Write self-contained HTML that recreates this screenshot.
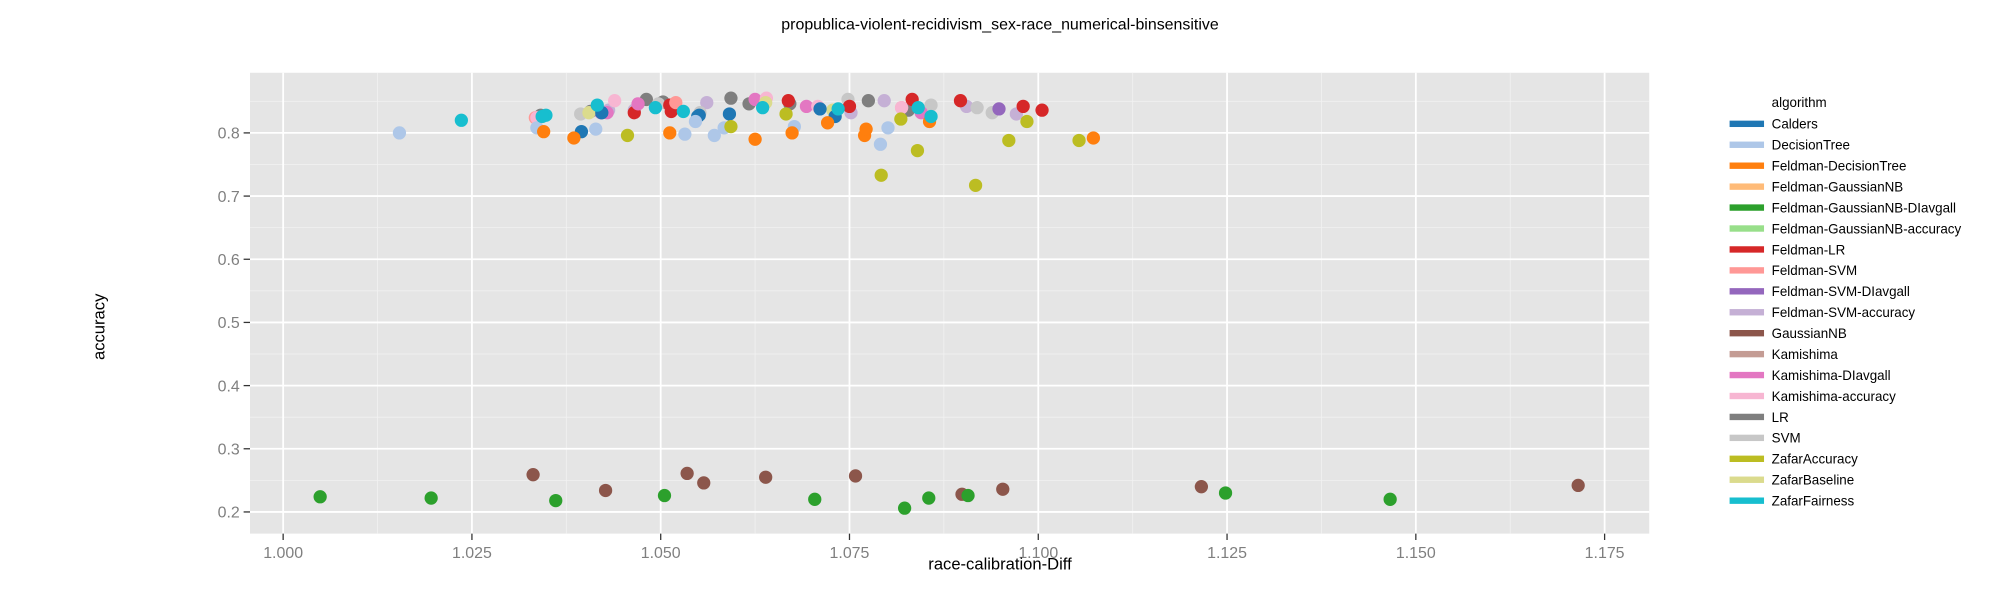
<!DOCTYPE html>
<html><head><meta charset="utf-8"><style>
html,body{margin:0;padding:0;background:#fff;}
svg{display:block;font-family:"Liberation Sans","DejaVu Sans",sans-serif;}
</style></head><body>
<svg id="chart" width="2000" height="600" viewBox="0 0 1568 470" preserveAspectRatio="none" xmlns="http://www.w3.org/2000/svg">
<text x="784" y="23" text-anchor="middle" font-size="12.5" fill="#000">propublica-violent-recidivism_sex-race_numerical-binsensitive</text>
<rect x="196" y="57" width="1097" height="361" fill="#e5e5e5"/>
<g id="grid"></g>
<g id="axes"></g>
<g id="points"></g>
<text x="784" y="446" text-anchor="middle" font-size="13" fill="#000">race-calibration-Diff</text>
<text x="82" y="256" text-anchor="middle" font-size="13" fill="#000" transform="rotate(-90 82 256)">accuracy</text>
<g id="legend">
<text x="1389" y="84" font-size="10.5" fill="#000">algorithm</text>
</g>
</svg>
<script>
const algorithms = ["Calders","DecisionTree","Feldman-DecisionTree","Feldman-GaussianNB","Feldman-GaussianNB-DIavgall","Feldman-GaussianNB-accuracy","Feldman-LR","Feldman-SVM","Feldman-SVM-DIavgall","Feldman-SVM-accuracy","GaussianNB","Kamishima","Kamishima-DIavgall","Kamishima-accuracy","LR","SVM","ZafarAccuracy","ZafarBaseline","ZafarFairness"];
const colors = ["#1f77b4","#aec7e8","#ff7f0e","#ffbb78","#2ca02c","#98df8a","#d62728","#ff9896","#9467bd","#c5b0d5","#8c564b","#c49c94","#e377c2","#f7b6d2","#7f7f7f","#c7c7c7","#bcbd22","#dbdb8d","#17becf"];
const xTicks = [1.000,1.025,1.050,1.075,1.100,1.125,1.150,1.175];
const xTickLabels = ["1.000","1.025","1.050","1.075","1.100","1.125","1.150","1.175"];
const yTicks = [0.2,0.3,0.4,0.5,0.6,0.7,0.8];
const yTickLabels = ["0.2","0.3","0.4","0.5","0.6","0.7","0.8"];
const svmAccX = [1.0561,1.0796,1.0905,1.0971,1.0752,1.0465,1.0431];
const svmAccY = [0.848,0.851,0.842,0.830,0.832,0.836,0.836];
const lrX = [1.0407,1.0481,1.0593,1.0617,1.0671,1.0775,1.0828,1.0341,1.0503];
const lrY = [0.834,0.853,0.855,0.846,0.846,0.851,0.836,0.828,0.849];
const svmX = [1.0394,1.0497,1.0748,1.0858,1.0919,1.0939,1.0552];
const svmY = [0.830,0.846,0.853,0.844,0.840,0.832,0.832];
const feldLRX = [1.0465,1.0514,1.0669,1.0750,1.0833,1.0897,1.0980,1.1005,1.0512];
const feldLRY = [0.832,0.834,0.851,0.842,0.853,0.851,0.842,0.836,0.844];
const feldSVMX = [1.0520,1.0819,1.0334];
const feldSVMY = [0.848,0.840,0.824];
const feldSVMDIX = [1.0948,1.0421];
const feldSVMDIY = [0.838,0.832];
const kamDIX = [1.0470,1.0625,1.0693,1.0845,1.0429];
const kamDIY = [0.846,0.853,0.842,0.832,0.832];
const kamAccX = [1.0439,1.0640,1.0708,1.0336,1.0819];
const kamAccY = [0.851,0.855,0.842,0.824,0.840];
const zafBaseX = [1.0728,1.0639,1.0405];
const zafBaseY = [0.836,0.848,0.832];
const caldersX = [1.0395,1.0422,1.0551,1.0591,1.0711,1.0731,1.0549];
const caldersY = [0.802,0.832,0.828,0.830,0.838,0.826,0.826];
const dtX = [1.0154,1.0336,1.0414,1.0532,1.0571,1.0584,1.0677,1.0791,1.0801,1.0546];
const dtY = [0.800,0.808,0.806,0.798,0.796,0.808,0.810,0.782,0.808,0.818];
const feldDTX = [1.0345,1.0385,1.0512,1.0625,1.0674,1.0721,1.0770,1.0856,1.1073,1.0772];
const feldDTY = [0.802,0.792,0.800,0.790,0.800,0.816,0.796,0.818,0.792,0.806];
const zafFairX = [1.0236,1.0348,1.0416,1.0493,1.0530,1.0635,1.0735,1.0841,1.0858,1.0343];
const zafFairY = [0.820,0.828,0.844,0.840,0.834,0.840,0.838,0.840,0.826,0.826];
const zafAccX = [1.0456,1.0593,1.0666,1.0792,1.0818,1.0840,1.0917,1.0961,1.0985,1.1054];
const zafAccY = [0.796,0.810,0.830,0.733,0.822,0.772,0.717,0.788,0.818,0.788];
const gnbX = [1.0331,1.0427,1.0535,1.0557,1.0639,1.0758,1.0899,1.0953,1.1216,1.1715];
const gnbY = [0.259,0.234,0.261,0.246,0.255,0.257,0.228,0.236,0.240,0.242];
const fgnbDIX = [1.0049,1.0196,1.0361,1.0505,1.0704,1.0823,1.0855,1.0907,1.1248,1.1466];
const fgnbDIY = [0.224,0.222,0.218,0.226,0.220,0.206,0.222,0.226,0.230,0.220];

const series = [
 [9,svmAccX,svmAccY],[14,lrX,lrY],[15,svmX,svmY],[6,feldLRX,feldLRY],[7,feldSVMX,feldSVMY],
 [8,feldSVMDIX,feldSVMDIY],[12,kamDIX,kamDIY],[13,kamAccX,kamAccY],[17,zafBaseX,zafBaseY],
 [0,caldersX,caldersY],[1,dtX,dtY],[2,feldDTX,feldDTY],[18,zafFairX,zafFairY],[16,zafAccX,zafAccY],
 [10,gnbX,gnbY],[4,fgnbDIX,fgnbDIY]
];
const X0=196,X1=1293,Y0=57,Y1=418;
const xMin=0.99561,xMax=1.18091,yMin=0.1657,yMax=0.8952;
const sx=v=>X0+(v-xMin)/(xMax-xMin)*(X1-X0);
const sy=v=>Y1-(v-yMin)/(yMax-yMin)*(Y1-Y0);
const NS="http://www.w3.org/2000/svg";
function mk(tag,attrs,parent){const e=document.createElementNS(NS,tag);for(const k in attrs)e.setAttribute(k,attrs[k]);parent.appendChild(e);return e;}
const grid=document.getElementById('grid'),axes=document.getElementById('axes'),pts=document.getElementById('points'),leg=document.getElementById('legend');
for(let i=0;i<xTicks.length+1;i++){const v=xTicks[0]-0.0125+i*0.025;if(v<xMin||v>xMax)continue;const l=mk('line',{x1:sx(v),x2:sx(v),y1:Y0,y2:Y1,stroke:'#f2f2f2','stroke-width':0.6},grid);

}
for(let i=0;i<yTicks.length+1;i++){const v=yTicks[0]-0.05+i*0.1;if(v<yMin||v>yMax)continue;const l=mk('line',{x1:X0,x2:X1,y1:sy(v),y2:sy(v),stroke:'#f2f2f2','stroke-width':0.6},grid);

}
xTicks.forEach((v,i)=>{const l=mk('line',{x1:sx(v),x2:sx(v),y1:Y0,y2:Y1,stroke:'#fff','stroke-width':1.4},grid);


const t=mk('line',{x1:sx(v),x2:sx(v),y1:Y1,y2:Y1+5,stroke:'#333','stroke-width':1},axes);


const tx=mk('text',{x:sx(v),y:Y1+19,'text-anchor':'middle','font-size':12.5,fill:'#7f7f7f'},axes);tx.textContent=xTickLabels[i];

});
yTicks.forEach((v,i)=>{const l=mk('line',{x1:X0,x2:X1,y1:sy(v),y2:sy(v),stroke:'#fff','stroke-width':1.4},grid);


const t=mk('line',{x1:X0-5,x2:X0,y1:sy(v),y2:sy(v),stroke:'#333','stroke-width':1},axes);


const tx=mk('text',{x:X0-8,y:sy(v)+4.5,'text-anchor':'end','font-size':12.5,fill:'#7f7f7f'},axes);tx.textContent=yTickLabels[i];

});
series.forEach(([ci,xs,ys])=>{xs.forEach((x,j)=>{const c=mk('circle',{cx:sx(x),cy:sy(ys[j]),r:5.2,fill:colors[ci]},pts);

});});
algorithms.forEach((a,i)=>{const y=97+i*16.4;
const g=mk('g',{},leg);


mk('rect',{x:1356,y:y-2.5,width:27,height:5,fill:colors[i]},g);
const t=mk('text',{x:1389,y:y+3.8,'font-size':10.5,fill:'#000'},g);t.textContent=a;});
</script>
</body></html>
